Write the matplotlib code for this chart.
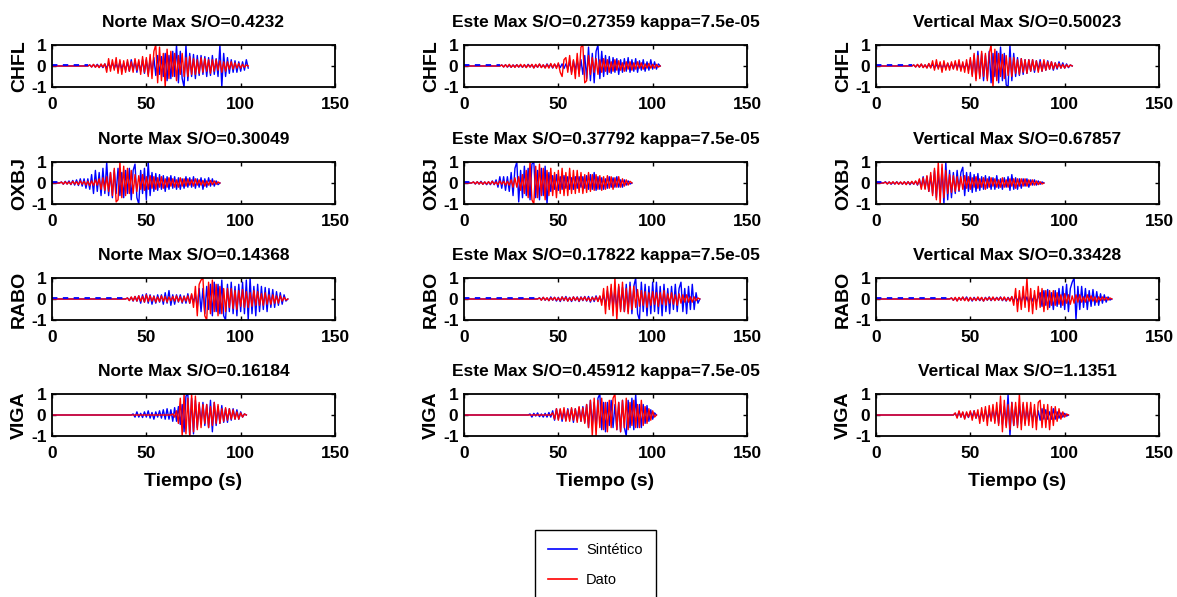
import matplotlib
matplotlib.use('Agg')
import matplotlib.pyplot as plt
import numpy as np
from matplotlib import font_manager
from matplotlib.lines import Line2D

_names = {f.name for f in font_manager.fontManager.ttflist}
FONT = 'Liberation Sans Narrow' if 'Liberation Sans Narrow' in _names else 'Liberation Sans'
plt.rcParams['font.family'] = [FONT, 'DejaVu Sans']

# ---------------- data ----------------
stations = ['CHFL', 'OXBJ', 'RABO', 'VIGA']
components = ['Norte', 'Este', 'Vertical']
ratios = [['0.4232', '0.27359', '0.50023'],
          ['0.30049', '0.37792', '0.67857'],
          ['0.14368', '0.17822', '0.33428'],
          ['0.16184', '0.45912', '1.1351']]
kappa = '7.5e-05'
xticks = [0, 50, 100, 150]
yticks = [-1, 0, 1]
DT = 1.0  # s, sampling of the read-off samples

# CHFL
CHFL_N_obs_t0 = 20
CHFL_N_obs = [0.05,-0.05,0.08,-0.06,0.05,-0.08,0.1,-0.05,0.1,
              -0.3,0.35,-0.25,0.3,-0.2,0.4,-0.35,0.3,-0.4,0.25,-0.3,
              0.3,-0.25,0.2,-0.3,0.35,-0.2,0.3,-0.4,0.45,-0.3,0.4,-0.5,0.55,-0.6,0.7,
              1.0,-0.8,0.9,-0.7,0.6,-1.0,0.8,-0.6,
              0.7,-0.5,0.6,-0.7,0.5,-0.4,0.6,-0.5,0.4,-0.5,0.45,-0.4,0.35,
              -0.4,0.3,-0.35,0.4,-0.3,0.35,-0.25,0.3,-0.35,0.3,-0.25,0.3,-0.2,0.25,-0.3,0.2,-0.25,0.2,-0.15,0.2,
              -0.15,0.15,-0.1,0.12,-0.1,0.08,-0.06,0.05,0.0]
CHFL_N_syn_t0 = 20
CHFL_N_syn = [0.05,-0.04,0.06,-0.05,0.08,-0.06,0.05,-0.08,0.1,-0.1,0.12,-0.1,0.15,-0.12,0.1,-0.15,0.2,-0.15,0.12,-0.2,
              0.2,-0.25,0.3,-0.2,0.25,-0.3,0.2,-0.25,0.3,-0.35,0.3,-0.4,0.35,-0.3,0.4,-0.45,0.5,-0.4,0.45,-0.5,
              0.6,-0.7,0.5,-0.6,0.7,-0.5,1.0,-0.8,0.7,-0.6,-1.0,1.0,-0.7,
              0.6,-0.5,0.55,-0.6,0.5,-0.45,0.5,-0.4,0.45,-0.5,0.4,-0.45,0.5,-0.4,0.35,-0.5,
              1.0,-1.0,0.6,-0.5,
              0.4,-0.35,0.3,-0.3,0.25,-0.3,0.2,-0.25,0.2,-0.2,0.3,-0.1]
CHFL_E_obs_t0 = 20
CHFL_E_obs = [0.05,-0.05,0.06,-0.05,0.08,-0.06,0.05,-0.07,0.06,-0.05,0.08,-0.06,0.07,-0.08,0.06,-0.05,0.08,-0.1,0.08,-0.06,
              0.1,-0.08,0.06,-0.1,0.08,-0.1,0.12,-0.08,0.1,-0.12,
              0.15,-0.3,-0.5,0.3,0.4,-0.3,0.5,-0.4,0.3,-0.6,0.6,
              -0.5,0.9,1.0,-0.8,-0.7,0.5,
              -0.4,0.4,-0.3,0.35,-0.4,0.3,-0.3,0.35,-0.25,0.3,-0.3,0.2,-0.25,0.3,
              -0.2,0.25,-0.2,0.15,-0.25,0.2,-0.15,0.2,-0.2,0.15,-0.15,0.2,-0.1,0.15,-0.15,0.1,-0.1,0.12,-0.1,0.08,-0.1,0.08,-0.05,0.0]
CHFL_E_syn_t0 = 20
CHFL_E_syn = [0.05,-0.04,0.06,-0.05,0.04,-0.06,0.05,-0.04,0.06,-0.05,0.04,-0.06,0.05,-0.06,0.08,-0.05,0.06,-0.08,0.05,-0.06,
              0.08,-0.06,0.05,-0.08,0.1,-0.06,0.08,-0.1,0.08,-0.06,0.1,-0.08,0.1,-0.12,0.1,
              -0.15,0.2,-0.3,0.25,-0.2,0.3,-0.35,0.3,-0.4,0.5,
              -0.6,0.9,-0.7,0.6,-0.8,0.7,1.0,-0.6,0.7,-0.5,
              0.5,-0.4,0.45,-0.35,0.4,-0.3,0.35,-0.4,0.3,-0.3,0.35,-0.25,0.4,-0.3,0.3,-0.25,0.35,-0.3,0.25,-0.2,
              0.3,-0.25,0.2,-0.2,0.3,-0.15,0.2,-0.15,0.1,0.0]
CHFL_V_obs_t0 = 20
CHFL_V_obs = [0.05,-0.05,0.08,-0.06,0.1,-0.08,0.06,-0.1,0.12,-0.1,
              0.25,-0.2,0.3,-0.15,0.2,-0.3,0.25,-0.2,0.15,-0.2,0.2,-0.15,0.25,-0.2,0.3,-0.25,0.2,-0.3,0.3,-0.35,
              0.4,-0.5,0.6,-0.7,0.5,-0.6,0.7,-0.5,0.6,-0.7,0.6,
              1.0,-1.0,0.8,-0.7,
              0.6,-0.5,0.55,-0.6,0.5,-0.45,0.4,-0.5,0.4,-0.35,0.3,-0.4,0.35,-0.3,0.3,-0.35,
              0.3,-0.25,0.3,-0.2,0.25,-0.3,0.2,-0.25,0.3,-0.2,0.2,-0.15,0.2,-0.15,0.15,-0.1,0.12,-0.1,0.08,-0.1,0.06,-0.05,0.05,0.0]
CHFL_V_syn_t0 = 20
CHFL_V_syn = [0.05,-0.04,0.06,-0.05,0.08,-0.06,0.05,-0.08,0.1,-0.06,0.08,-0.1,0.06,-0.08,0.1,-0.12,0.08,-0.1,0.12,-0.08,
              0.1,-0.12,0.15,-0.1,0.12,-0.15,0.1,-0.12,0.15,-0.2,
              0.3,-0.4,0.5,-0.6,0.7,-0.5,0.6,-0.7,0.5,-0.6,0.7,-0.8,0.6,-0.5,0.7,-0.8,0.9,-0.7,0.6,-0.9,
              -1.0,1.0,-0.7,0.6,
              -0.5,0.4,-0.45,0.35,-0.4,0.3,-0.35,0.3,-0.25,0.3,-0.3,0.25,-0.2,0.3,-0.25,0.2,-0.2,0.25,-0.15,0.2,
              -0.2,0.15,-0.15,0.2,-0.1,0.15,-0.1,0.1,-0.08,0.05,0.0]

# OXBJ
OXBJ_N_obs_t0 = 5
OXBJ_N_obs = [0.04,-0.05,0.06,-0.05,0.05,-0.06,0.08,-0.05,0.06,-0.08,0.1,-0.06,0.08,-0.1,0.08,-0.12,0.1,-0.12,0.15,-0.1,
              0.2,-0.3,0.25,-0.35,0.3,-0.4,0.5,-0.6,
              0.7,-0.9,-0.8,1.0,-0.7,0.8,-0.6,0.7,-0.5,0.6,-0.5,
              0.4,-0.4,0.35,-0.3,0.4,-0.35,0.3,-0.3,0.35,-0.25,0.3,-0.3,0.25,-0.2,0.3,-0.25,0.2,
              -0.2,0.25,-0.15,0.2,-0.2,0.15,-0.2,0.25,-0.15,0.2,-0.15,0.2,-0.1,0.15,-0.15,0.2,-0.1,0.15,-0.1,0.12,
              -0.15,0.1,-0.1,0.12,-0.08,0.1,-0.06,0.05,0.0]
OXBJ_N_syn_t0 = 5
OXBJ_N_syn = [0.05,-0.06,0.08,-0.05,0.1,-0.08,0.12,-0.1,0.15,-0.12,0.2,-0.15,0.2,-0.25,0.2,
              -0.3,0.4,-0.5,0.6,-0.4,0.5,-0.6,0.7,-0.5,1.0,-0.6,0.5,-0.7,0.6,-0.5,0.7,
              -0.6,0.5,-0.7,0.6,-0.5,0.7,-0.8,0.6,0.9,-0.7,-1.0,0.6,-0.5,0.7,-0.8,1.0,-0.6,
              0.5,-0.4,0.45,-0.35,0.4,-0.3,0.35,-0.4,0.3,-0.3,0.35,-0.25,0.3,-0.3,0.25,-0.3,0.2,-0.25,0.3,-0.2,
              0.25,-0.2,0.3,-0.25,0.2,-0.2,0.25,-0.3,0.2,-0.2,0.25,-0.15,0.2,-0.15,0.1,-0.08,0.0]
OXBJ_E_obs_t0 = 5
OXBJ_E_obs = [0.05,-0.04,0.06,-0.05,0.05,-0.06,0.05,-0.05,0.06,-0.05,0.08,-0.06,0.05,-0.08,0.1,-0.06,0.08,-0.1,0.08,-0.1,
              0.15,-0.2,0.25,-0.2,0.3,-0.35,0.4,-0.5,0.6,-0.7,
              1.0,-0.8,-1.0,0.8,-0.7,0.9,-0.6,0.7,-0.8,0.6,
              -0.6,0.7,-0.6,0.5,-0.7,0.6,-0.5,0.7,-0.6,0.5,-0.6,0.7,-0.5,0.6,-0.5,0.6,-0.45,0.5,-0.5,0.4,-0.45,0.5,
              -0.4,0.4,-0.35,0.4,-0.3,0.35,-0.35,0.3,-0.3,0.35,-0.25,0.3,-0.3,0.25,-0.2,0.3,-0.2,0.2,-0.15,0.15,
              -0.1,0.08,0.0]
OXBJ_E_syn_t0 = 5
OXBJ_E_syn = [0.05,-0.05,0.06,-0.05,0.08,-0.06,0.05,-0.08,0.06,-0.08,0.1,-0.08,
              0.15,-0.2,0.3,-0.25,0.3,-0.35,0.3,-0.4,0.5,-0.6,
              0.7,1.0,-0.9,0.6,-0.7,0.8,-0.6,0.7,-0.8,0.9,1.0,-0.7,0.6,-0.8,0.7,-0.6,0.8,-1.0,0.5,
              -0.4,0.35,-0.3,0.4,-0.35,0.3,-0.3,0.35,-0.25,0.3,-0.3,0.25,-0.3,0.3,-0.25,0.3,-0.2,0.3,-0.25,0.35,
              -0.3,0.4,-0.3,0.5,-0.35,0.3,-0.3,0.25,-0.3,0.2,-0.25,0.3,-0.2,0.25,-0.2,0.3,-0.2,0.15,-0.2,0.15,
              -0.1,0.1,-0.05,0.0]
OXBJ_V_obs_t0 = 5
OXBJ_V_obs = [0.04,-0.05,0.05,-0.04,0.06,-0.05,0.05,-0.06,0.05,-0.05,0.06,-0.08,0.06,-0.05,0.08,-0.06,0.1,-0.08,
              0.2,-0.3,0.25,-0.3,0.35,-0.4,0.5,-0.6,0.7,
              -0.8,1.0,-1.0,0.9,-0.7,0.6,
              -0.5,0.4,-0.45,0.35,-0.4,0.3,-0.35,0.3,-0.3,0.35,-0.25,0.3,-0.3,0.25,-0.2,0.3,-0.25,0.2,-0.2,0.25,
              -0.3,0.2,-0.2,0.25,-0.15,0.2,-0.2,0.15,-0.2,0.25,-0.2,0.15,-0.2,0.2,-0.15,0.2,-0.25,0.2,-0.15,0.2,
              -0.15,0.2,-0.15,0.15,-0.1,0.15,-0.1,0.1,-0.08,0.06,-0.05,0.0]
OXBJ_V_syn_t0 = 5
OXBJ_V_syn = [0.06,-0.04,0.05,-0.06,0.04,-0.05,0.06,-0.05,0.04,-0.06,0.05,-0.05,0.06,-0.08,0.05,-0.06,0.08,-0.1,
              0.15,-0.2,0.3,-0.25,0.3,-0.4,0.35,-0.5,0.6,-0.7,0.5,-0.6,0.7,
              -1.0,1.0,-0.8,0.6,-0.7,
              0.5,-0.5,0.6,-0.4,0.5,0.75,-0.6,0.5,-0.4,0.5,-0.45,0.4,-0.4,0.45,-0.35,0.3,
              -0.3,0.35,-0.25,0.3,-0.3,0.25,-0.3,0.35,-0.25,0.2,-0.3,0.25,-0.2,0.3,-0.35,0.4,-0.3,0.25,-0.3,0.2,
              -0.25,0.2,-0.15,0.2,-0.2,0.15,-0.1,0.15,-0.1,0.1,-0.06,0.05,0.0]

# RABO
RABO_N_obs_t0 = 40
RABO_N_obs = [0.05,-0.08,0.1,-0.08,0.12,-0.1,0.15,-0.1,0.12,-0.15,0.2,-0.12,0.15,-0.1,0.12,-0.15,0.1,-0.12,0.15,-0.1,
              0.12,-0.15,0.1,-0.08,0.12,-0.1,0.15,-0.12,0.1,-0.15,0.12,-0.1,0.15,-0.2,0.25,
              -0.4,0.6,-0.8,0.7,0.9,1.0,-0.8,-1.0,0.8,-0.7,0.9,-0.6,0.7,-0.8,0.6,-0.7,
              0.5,-0.6,0.5,-0.4,0.5,-0.45,0.4,-0.5,0.4,-0.35,0.45,-0.4,0.35,-0.4,0.3,-0.35,0.4,-0.3,0.35,-0.3,
              0.25,-0.3,0.3,-0.25,0.2,-0.25,0.2,-0.2,0.15,-0.2,0.15,-0.1,0.08,-0.05,0.0]
RABO_N_syn_t0 = 40
RABO_N_syn = [0.05,-0.06,0.08,-0.1,0.12,-0.1,0.15,-0.2,0.2,-0.15,0.25,-0.2,0.2,-0.25,0.15,-0.2,0.2,-0.15,0.2,-0.25,
              0.3,-0.2,0.4,-0.3,0.2,-0.25,0.2,-0.15,0.2,-0.2,0.15,-0.2,0.25,-0.2,0.2,-0.15,0.2,
              -0.4,0.5,-0.6,0.5,-0.7,0.6,-0.5,0.7,-0.8,0.8,-0.6,0.7,-0.7,0.9,-0.8,-1.0,0.7,-0.6,0.8,-0.7,
              0.6,-0.8,0.7,-0.6,0.8,-0.7,0.9,-1.0,1.0,-0.7,0.6,-0.8,0.7,-0.6,
              0.6,-0.5,0.55,-0.6,0.5,-0.4,0.45,-0.4,0.35,-0.3,0.3,-0.25,0.2,-0.1,0.0]
RABO_E_obs_t0 = 40
RABO_E_obs = [0.05,-0.06,0.08,-0.05,0.06,-0.08,0.06,-0.05,0.08,-0.06,0.05,-0.08,0.1,-0.06,0.08,-0.1,0.06,-0.08,0.1,-0.06,
              0.08,-0.1,0.08,-0.06,0.1,-0.08,0.06,-0.1,0.08,-0.06,0.1,-0.12,0.15,
              -0.3,0.5,-0.7,0.6,-0.5,0.7,-0.8,1.0,-1.0,0.7,-0.6,0.8,-0.6,0.5,-0.7,0.6,-0.5,0.6,
              -0.4,0.45,-0.35,0.4,-0.3,0.35,-0.4,0.3,-0.3,0.35,-0.25,0.3,-0.35,0.3,-0.25,0.4,-0.3,0.25,-0.2,0.3,
              -0.25,0.2,-0.3,0.25,-0.2,0.2,-0.15,0.2,-0.15,0.1,-0.15,0.1,-0.08,0.05,0.0]
RABO_E_syn_t0 = 40
RABO_E_syn = [0.06,-0.05,0.08,-0.06,0.05,-0.08,0.1,-0.06,0.08,-0.1,0.08,-0.12,0.1,-0.08,0.12,-0.1,0.08,-0.12,0.1,-0.08,
              0.1,-0.12,0.1,-0.08,0.12,-0.1,0.12,-0.15,0.1,-0.12,0.15,-0.1,0.12,-0.15,0.2,
              -0.3,0.4,-0.35,0.5,-0.4,0.45,-0.5,0.6,-0.5,0.55,-0.6,0.7,-0.6,0.8,-0.7,0.6,
              1.0,-0.7,-1.0,0.8,-0.6,0.7,-0.8,0.6,-0.7,0.8,-0.6,0.8,-0.7,0.6,-0.8,0.7,-0.6,0.5,-0.7,0.6,
              -0.5,0.7,-0.6,0.5,0.8,-0.6,0.5,-0.7,0.6,-0.5,0.7,-0.5,0.3,-0.2,0.0]
RABO_V_obs_t0 = 40
RABO_V_obs = [0.05,-0.06,0.08,-0.1,0.08,-0.06,0.1,-0.08,0.06,-0.1,0.08,-0.06,0.05,-0.08,0.1,-0.06,0.08,-0.1,0.06,-0.05,
              0.08,-0.06,0.1,-0.08,0.06,-0.05,0.08,-0.06,0.1,-0.08,0.06,-0.1,0.12,
              -0.3,0.5,-0.6,0.4,-0.5,0.6,-0.4,1.0,-0.6,0.5,-0.7,0.4,-0.5,0.6,-0.4,0.5,-0.6,0.4,-0.5,0.4,-0.3,0.4,-0.3,
              0.3,-0.25,0.2,-0.3,0.25,-0.2,0.2,-0.25,0.15,-0.2,0.2,-0.15,0.2,-0.15,0.1,-0.15,0.2,-0.1,0.15,-0.1,
              0.1,-0.15,0.1,-0.08,0.1,-0.06,0.08,-0.05,0.05,0.0]
RABO_V_syn_t0 = 40
RABO_V_syn = [0.05,-0.06,0.05,-0.08,0.06,-0.05,0.08,-0.06,0.1,-0.08,0.06,-0.1,0.08,-0.06,0.05,-0.08,0.06,-0.1,0.08,-0.06,
              0.1,-0.08,0.06,-0.05,0.08,-0.06,0.1,-0.08,0.06,-0.1,0.08,-0.06,0.1,-0.12,0.15,-0.1,0.12,-0.15,0.2,-0.15,
              0.1,-0.2,0.15,-0.1,0.2,-0.15,0.1,
              0.3,-0.35,0.4,-0.3,0.45,-0.4,0.3,-0.5,0.4,-0.35,0.5,-0.4,0.6,-0.5,0.7,-0.6,0.5,0.8,
              1.0,-1.0,0.6,-0.5,0.6,-0.4,0.5,-0.5,0.4,-0.35,0.45,-0.3,0.35,-0.3,0.25,-0.2,0.2,-0.15,0.1,-0.05,0.0]

# VIGA
VIGA_N_obs_t0 = 64
VIGA_N_obs = [0.05,-0.1,0.2,-0.4,0.8,-1.0,1.0,-0.9,0.8,-1.0,1.0,-0.8,0.9,-0.7,0.6,-0.6,0.5,-0.4,0.5,-0.6,
              0.4,-0.5,0.6,-0.4,0.5,-0.4,0.3,-0.3,0.35,-0.25,0.3,-0.2,0.25,-0.2,0.15,-0.2,0.1,-0.1,0.05,0.0]
VIGA_N_syn_t0 = 43
VIGA_N_syn = [0.05,-0.1,0.15,-0.1,0.08,-0.12,0.15,-0.1,0.2,-0.15,0.12,-0.2,0.15,-0.1,0.2,-0.15,0.25,-0.2,0.3,-0.2,
              0.25,-0.3,0.35,-0.3,0.4,-0.45,0.5,
              -0.8,0.9,1.0,-1.0,0.8,-0.9,0.7,-0.6,
              0.5,-0.4,0.6,-0.5,0.5,-0.6,0.7,-0.8,0.6,-0.5,0.4,-0.4,0.45,-0.35,0.3,-0.35,0.3,-0.25,0.3,-0.2,
              0.25,-0.2,0.15,-0.1,0.05,0.0]
VIGA_E_obs_t0 = 47
VIGA_E_obs = [0.1,-0.2,0.3,-0.25,0.3,-0.2,0.35,-0.3,0.25,-0.3,0.35,-0.25,0.3,-0.35,0.4,-0.3,0.35,-0.4,
              0.5,-0.6,0.7,-1.0,0.8,-1.0,0.7,-0.6,
              0.8,-0.7,0.6,-0.8,0.7,-0.6,0.8,1.0,-0.7,0.6,-0.8,0.7,-0.6,0.8,-0.7,0.6,-0.5,0.7,-0.6,0.5,-0.6,0.7,-0.5,
              0.4,-0.4,0.3,-0.25,0.2,-0.1,0.0]
VIGA_E_syn_t0 = 35
VIGA_E_syn = [0.05,-0.1,0.08,-0.05,0.1,-0.08,0.05,-0.1,0.08,-0.1,0.12,-0.1,
              0.2,-0.25,0.3,-0.2,0.25,-0.3,0.2,-0.25,0.3,-0.2,0.3,-0.35,0.3,-0.25,0.35,-0.3,0.4,-0.35,0.5,
              -0.6,0.7,-0.5,0.6,-0.7,0.8,1.0,-0.7,0.6,-0.8,0.6,-0.5,0.7,-0.6,0.5,-0.7,0.6,-0.8,0.7,-0.6,
              -1.0,0.7,-0.6,0.8,-0.7,1.0,-0.6,0.5,-0.6,0.5,
              -0.4,0.45,-0.3,0.25,-0.2,0.1,0.0]
VIGA_V_obs_t0 = 42
VIGA_V_obs = [0.1,-0.15,0.2,-0.1,0.15,-0.2,0.15,-0.1,0.2,-0.25,0.2,-0.15,0.25,
              -0.4,0.35,-0.3,0.4,-0.5,0.45,-0.3,0.5,-0.4,0.6,-0.5,0.9,-0.8,
              0.7,-0.6,0.5,-0.7,0.6,-0.5,0.6,-0.6,1.0,-0.7,0.6,-0.5,0.6,
              -0.5,0.6,-0.6,0.5,-0.7,0.6,0.7,-0.6,0.5,-0.6,0.5,-0.7,0.4,-0.5,0.4,
              -0.3,0.3,-0.2,0.15,-0.1,0.05,0.0]
VIGA_V_syn_t0 = 42
VIGA_V_syn = [0.08,-0.1,0.15,-0.1,0.12,-0.15,0.1,-0.12,0.15,-0.1,0.2,-0.15,0.1,-0.2,0.15,-0.2,0.25,-0.2,0.15,-0.25,
              0.3,-0.25,0.3,
              -0.4,0.5,-0.45,0.4,-0.5,1.0,-1.0,0.6,-0.5,0.4,-0.5,0.45,-0.4,0.5,-0.4,0.35,
              -0.3,0.35,-0.3,0.25,-0.3,0.2,-0.25,0.3,-0.2,0.25,-0.2,0.15,-0.2,0.3,-0.2,0.15,-0.15,0.1,-0.1,0.08,-0.05,0.0]

series = {
    ('CHFL', 'Norte'): (CHFL_N_syn_t0, CHFL_N_syn, CHFL_N_obs_t0, CHFL_N_obs),
    ('CHFL', 'Este'): (CHFL_E_syn_t0, CHFL_E_syn, CHFL_E_obs_t0, CHFL_E_obs),
    ('CHFL', 'Vertical'): (CHFL_V_syn_t0, CHFL_V_syn, CHFL_V_obs_t0, CHFL_V_obs),
    ('OXBJ', 'Norte'): (OXBJ_N_syn_t0, OXBJ_N_syn, OXBJ_N_obs_t0, OXBJ_N_obs),
    ('OXBJ', 'Este'): (OXBJ_E_syn_t0, OXBJ_E_syn, OXBJ_E_obs_t0, OXBJ_E_obs),
    ('OXBJ', 'Vertical'): (OXBJ_V_syn_t0, OXBJ_V_syn, OXBJ_V_obs_t0, OXBJ_V_obs),
    ('RABO', 'Norte'): (RABO_N_syn_t0, RABO_N_syn, RABO_N_obs_t0, RABO_N_obs),
    ('RABO', 'Este'): (RABO_E_syn_t0, RABO_E_syn, RABO_E_obs_t0, RABO_E_obs),
    ('RABO', 'Vertical'): (RABO_V_syn_t0, RABO_V_syn, RABO_V_obs_t0, RABO_V_obs),
    ('VIGA', 'Norte'): (VIGA_N_syn_t0, VIGA_N_syn, VIGA_N_obs_t0, VIGA_N_obs),
    ('VIGA', 'Este'): (VIGA_E_syn_t0, VIGA_E_syn, VIGA_E_obs_t0, VIGA_E_obs),
    ('VIGA', 'Vertical'): (VIGA_V_syn_t0, VIGA_V_syn, VIGA_V_obs_t0, VIGA_V_obs),
}


def trace(t0, vals):
    # flat (zero) record from t=0 until the first read-off sample
    t = np.concatenate([[0.0, t0 - DT], t0 + DT * np.arange(len(vals))])
    y = np.concatenate([[0.0, 0.0], np.asarray(vals, float)])
    return t, y


# ---------------- layout ----------------
W, H = 1177, 597
fig = plt.figure(figsize=(W / 100, H / 100), dpi=100)
col_left = [52, 464, 876]
ax_w = 283
row_top = [45, 162, 278, 394]
ax_h = 42
BLUE = '#0000ff'
RED = '#ff0000'

for i, st in enumerate(stations):
    for j, comp in enumerate(components):
        ax = fig.add_axes([col_left[j] / W, 1 - (row_top[i] + ax_h) / H, ax_w / W, ax_h / H])
        ts0, syn, to0, obs = series[(st, comp)]
        tb, yb = trace(ts0, syn)
        tr, yr = trace(to0, obs)
        ax.plot(tb, yb, color=BLUE, lw=1.0)
        ax.plot(tr, yr, color=RED, lw=1.0)
        if st != 'VIGA':
            ax.plot(tb[:2], yb[:2] + 0.03, color=BLUE, lw=1.3, dashes=(3, 3))
        ax.set_xlim(0, 150)
        ax.set_ylim(-1, 1)
        ax.set_xticks(xticks)
        ax.set_yticks(yticks)
        ax.set_yticklabels([str(v) for v in yticks])
        ax.tick_params(direction='in', top=True, right=True, length=3, width=1,
                       labelsize=12.5)
        ax.tick_params(axis='x', pad=7)
        ax.tick_params(axis='y', pad=4)
        for lab in ax.get_xticklabels() + ax.get_yticklabels():
            lab.set_fontweight('bold')
        for sp in ax.spines.values():
            sp.set_linewidth(1.3)
        title = f'{comp} Max S/O={ratios[i][j]}'
        if comp == 'Este':
            title += f' kappa={kappa}'
        ax.set_title(title, fontsize=12.5, fontweight='bold', pad=13)
        ax.set_ylabel(st, fontsize=14, fontweight='bold', labelpad=2)
        if i == len(stations) - 1:
            ax.set_xlabel('Tiempo (s)', fontsize=14, fontweight='bold', labelpad=9)

handles = [Line2D([], [], color=BLUE, lw=1.2), Line2D([], [], color=RED, lw=1.2)]
leg = fig.legend(handles, ['Sintético', 'Dato'], loc='upper left',
                 bbox_to_anchor=(535 / W, 1 - 530 / H), fontsize=10.5,
                 frameon=True, fancybox=False, edgecolor='black', framealpha=1,
                 handlelength=2.0, handletextpad=0.6, labelspacing=1.1, borderpad=0.9,
                 borderaxespad=0)
leg.get_frame().set_linewidth(1.0)

fig.savefig('out.png', dpi=100)
